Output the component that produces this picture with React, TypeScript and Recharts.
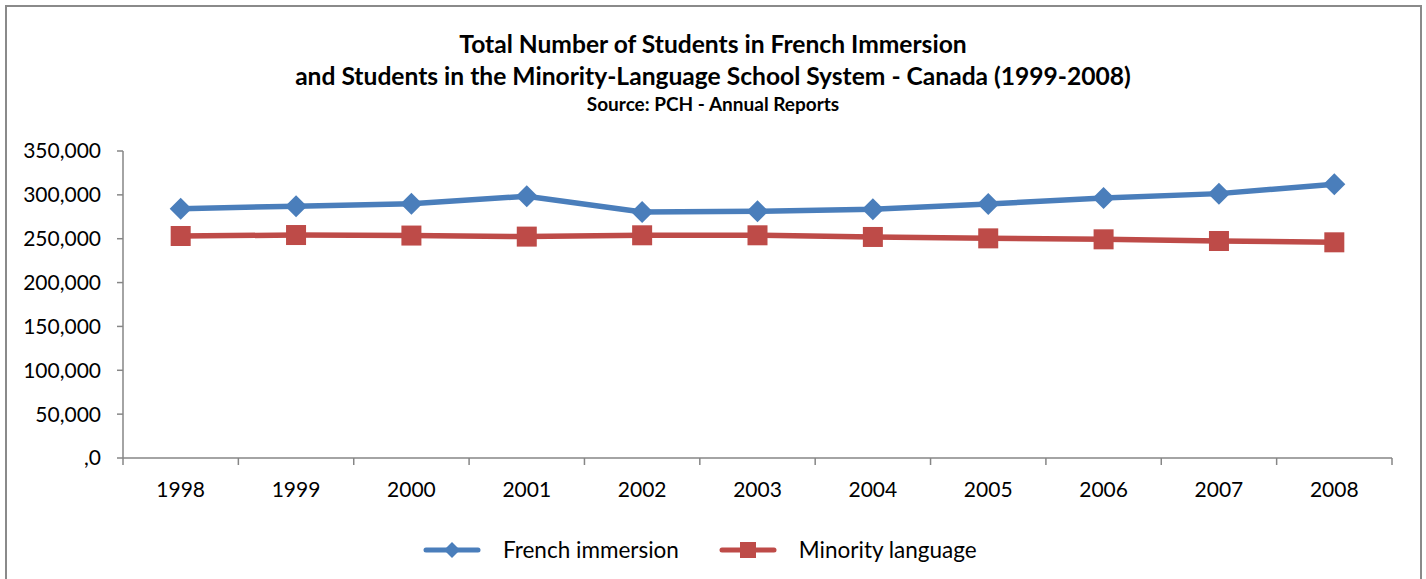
import React from 'react';
import {LineChart, Line, XAxis, YAxis} from 'recharts';

const years = ['1998', '1999', '2000', '2001', '2002', '2003', '2004', '2005', '2006', '2007', '2008'];
const frenchImmersion = [284300, 287000, 290000, 298400, 280500, 281300, 283500, 289600, 296400, 301400, 312000];
const minorityLanguage = [253100, 254200, 253600, 252400, 253900, 253900, 252000, 250400, 249300, 247400, 245900];
const yTicks = [0, 50000, 100000, 150000, 200000, 250000, 300000, 350000];

const data = years.map((year, i) => ({
    year,
    french: frenchImmersion[i],
    minority: minorityLanguage[i],
}));

const BLUE = '#4a7ebb';
const RED = '#be4b48';
const AXIS = '#868686';
const FONT = 'Lato, "Open Sans", sans-serif';

const W = 1426;
const H = 579;
const PLOT_LEFT = 123;
const PLOT_RIGHT = 1392;
const HALF_BAND = (PLOT_RIGHT - PLOT_LEFT) / years.length / 2;

const fmtY = (v: number) => (v === 0 ? ',0' : v.toLocaleString('en-US'));

const XTick = (props: any) => {
    const {x, y, payload, index} = props;
    const axisY = y - 8;
    return (
        <g>
            <line x1={x - HALF_BAND} x2={x - HALF_BAND} y1={axisY} y2={axisY + 7} stroke={AXIS} strokeWidth={1.5}/>
            {index === years.length - 1 && (
                <line x1={x + HALF_BAND} x2={x + HALF_BAND} y1={axisY} y2={axisY + 7} stroke={AXIS} strokeWidth={1.5}/>
            )}
            <text x={x} y={axisY + 39} textAnchor="middle" fill="#000" fontSize={21} fontFamily={FONT}>
                {payload.value}
            </text>
        </g>
    );
};

const Diamond = (props: any) => {
    const {cx, cy} = props;
    if (cx == null || cy == null) return null;
    const r = 11;
    return <path d={`M${cx},${cy - r}L${cx + r},${cy}L${cx},${cy + r}L${cx - r},${cy}Z`} fill={BLUE}/>;
};

const Square = (props: any) => {
    const {cx, cy} = props;
    if (cx == null || cy == null) return null;
    return <rect x={cx - 10} y={cy - 10} width={20} height={20} fill={RED}/>;
};

const LegendItem = ({color, label, marker, gap}: {color: string; label: string; marker: 'diamond' | 'square'; gap: number}) => (
    <div style={{display: 'flex', alignItems: 'center', marginRight: gap}}>
        <svg width={58} height={24} style={{marginRight: 22}}>
            <line x1={3} x2={55} y1={12} y2={12} stroke={color} strokeWidth={5} strokeLinecap="round"/>
            {marker === 'diamond'
                ? <path d="M29,4L37,12L29,20L21,12Z" fill={color}/>
                : <rect x={21} y={4} width={16} height={16} fill={color}/>}
        </svg>
        <span style={{fontSize: 22.5, fontFamily: FONT, color: '#000'}}>{label}</span>
    </div>
);

export default function App() {
    return (
        <div style={{position: 'absolute', left: 0, top: 0, width: W, height: H, overflow: 'hidden', background: '#fff'}}>
            <div style={{
                position: 'absolute', left: 5, top: 5, width: 1417, height: 620,
                border: '2px solid #8a8a8a', boxSizing: 'border-box',
            }}/>
            <div style={{
                position: 'absolute', left: 0, top: 28, width: W, textAlign: 'center',
                fontFamily: FONT, fontWeight: 700, color: '#000',
            }}>
                <div style={{fontSize: 24.6, lineHeight: '32px'}}>Total Number of Students in French Immersion</div>
                <div style={{fontSize: 24.6, lineHeight: '32px'}}>and Students in the Minority-Language School System - Canada (1999-2008)</div>
                <div style={{fontSize: 19, lineHeight: '24px'}}>Source: PCH - Annual Reports</div>
            </div>
            <div style={{position: 'absolute', left: 0, top: 0}}>
                <LineChart width={W} height={H} data={data} margin={{top: 151, right: W - PLOT_RIGHT, left: 10, bottom: 81}}>
                    <XAxis
                        dataKey="year"
                        height={40}
                        padding={{left: HALF_BAND, right: HALF_BAND}}
                        tickLine={false}
                        axisLine={{stroke: AXIS, strokeWidth: 1.5}}
                        tick={<XTick/>}
                        interval={0}
                    />
                    <YAxis
                        width={113}
                        domain={[0, 350000]}
                        ticks={yTicks}
                        tickFormatter={fmtY}
                        tickSize={6}
                        tickMargin={16}
                        tickLine={{stroke: AXIS, strokeWidth: 1.5}}
                        axisLine={{stroke: AXIS, strokeWidth: 1.5}}
                        tick={{fill: '#000', fontSize: 21, fontFamily: FONT}}
                        interval={0}
                    />
                    <Line dataKey="french" stroke={BLUE} strokeWidth={5.5} dot={<Diamond/>} isAnimationActive={false}/>
                    <Line dataKey="minority" stroke={RED} strokeWidth={5.5} dot={<Square/>} isAnimationActive={false}/>
                </LineChart>
            </div>
            <div style={{position: 'absolute', left: 423, top: 536, display: 'flex', alignItems: 'center'}}>
                <LegendItem color={BLUE} label="French immersion" marker="diamond" gap={40}/>
                <LegendItem color={RED} label="Minority language" marker="square" gap={0}/>
            </div>
        </div>
    );
}
